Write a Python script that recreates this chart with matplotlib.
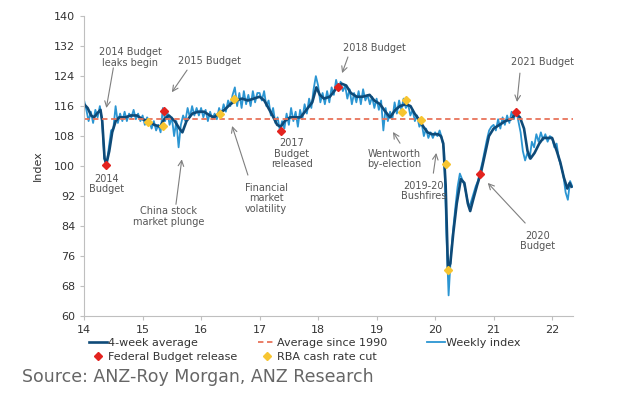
import numpy as np
import matplotlib
matplotlib.use('Agg')
import matplotlib.pyplot as plt

# ---------------
# Data
# ---------------

# Weekly index, one value every two weeks from start of 2014
weekly_2014 = [117.5, 115, 112, 114.5, 111.5, 115, 113, 116, 112, 102, 100.5, 105, 109.5,
               110, 116, 111.5, 114, 112, 114.5, 112, 114, 113, 115, 112.5, 114, 112]
weekly_2015 = [113.5, 111, 113, 112, 110, 112, 109.5, 111, 109, 115.5, 112, 114.5, 111,
               113, 108, 112, 105, 111, 113.5, 112, 115.5, 113, 116, 113.5, 115.5, 113.5]
weekly_2016 = [115.5, 113, 115, 112, 114.5, 112.5, 114, 112.5, 115.5, 113.5, 116.5, 114.5, 117.5,
               116, 119, 121, 116, 119.5, 115.5, 120, 116.5, 119, 116, 120, 117, 119.5]
weekly_2017 = [119.5, 117.5, 120, 116, 117.5, 113.5, 115.5, 111.5, 113, 109.5, 112, 110, 114,
               111, 115.5, 112, 114.5, 110.5, 115, 112.5, 116.5, 114, 118, 115.5, 120.5, 124]
weekly_2018 = [121.5, 117, 119.5, 116.5, 120, 117, 121, 119, 123, 120.5, 122.5, 120, 121.5,
               118, 120.5, 116.5, 119.5, 117, 120, 116.5, 120.5, 117.5, 119, 116.5, 118.5, 115.5]
weekly_2019 = [118, 115, 117.5, 109.5, 115.5, 112, 114.5, 112.5, 117, 114, 117.5, 115, 118,
               115.5, 116.5, 113.5, 115, 112, 113.5, 110.5, 111.5, 108, 110, 107.5, 109, 107.5]
weekly_2020 = [109, 108, 109.5, 107.5, 104, 82, 65.5, 76, 83, 89, 94.5, 98, 96.5,
               95, 92, 89, 90.5, 92.5, 94.5, 96, 98.5, 101, 104, 107, 109.5, 110.5]
weekly_2021 = [111, 109.5, 112.5, 110, 113, 111, 113.5, 111.5, 114.5, 112.5, 115, 112, 109,
               104, 101.5, 103.5, 102, 106.5, 105, 108.5, 106.5, 109, 107, 108.5, 106.5, 108]
weekly_2022 = [107.5, 105, 106, 102, 100, 97.5, 93, 91, 96, 94.5]

# 4-week average
avg_years = [14.00, 14.06, 14.12, 14.17, 14.22, 14.28, 14.31, 14.35, 14.38, 14.43, 14.48, 14.54,
             14.60, 14.70, 14.80, 14.90, 15.00, 15.10, 15.20, 15.30, 15.37, 15.45, 15.55, 15.63,
             15.68, 15.75, 15.85, 15.95, 16.05, 16.15, 16.22, 16.30, 16.40, 16.50, 16.60, 16.70,
             16.80, 16.90, 17.00, 17.08, 17.15, 17.22, 17.30, 17.36, 17.43, 17.52, 17.60, 17.70,
             17.80, 17.90, 17.97, 18.03, 18.10, 18.20, 18.30, 18.40, 18.48, 18.56, 18.66, 18.76,
             18.88, 18.96, 19.06, 19.15, 19.23, 19.32, 19.40, 19.50, 19.58, 19.65, 19.72, 19.80,
             19.87, 19.95, 20.05, 20.10, 20.14, 20.18, 20.22, 20.26, 20.31, 20.37, 20.44, 20.50,
             20.56, 20.60, 20.65, 20.72, 20.78, 20.85, 20.92, 21.00, 21.10, 21.20, 21.30, 21.38,
             21.45, 21.52, 21.58, 21.63, 21.70, 21.78, 21.85, 21.93, 22.00, 22.08, 22.14, 22.20,
             22.26, 22.30, 22.33]
avg_vals = [116.5, 115.5, 113.5, 113, 114, 115, 112, 102, 100.5, 104, 109, 112,
            113, 113, 113.5, 113.5, 112.5, 112, 111, 110.5, 112.5, 113.5, 112, 110,
            109, 112, 114, 114.5, 114.5, 113.5, 113, 114, 115, 116.5, 117.5, 118,
            117.5, 118, 118.5, 117.5, 115.5, 113.5, 111, 110.5, 112, 113, 113, 113,
            115, 117, 121, 119, 118, 118.5, 120.5, 122, 121.5, 119.5, 118.5, 118.5,
            119, 117.5, 116.5, 114.5, 113, 115, 116, 116.5, 116, 114, 112.5, 110.5,
            109, 108.5, 108.5, 108, 106, 95, 72.5, 74, 82, 90, 96.5, 95.5,
            90, 88, 91, 95, 98, 103, 108, 110, 111, 112, 112.5, 114,
            113, 110, 104, 102, 103.5, 106, 107.5, 107.5, 107.5, 104, 101, 97,
            94, 95.5, 94.5]

avg_since_1990 = 112.5

budget_years = [14.37, 15.37, 17.36, 18.34, 20.77, 21.38]
budget_vals = [100.3, 114.7, 109.3, 121.1, 97.8, 114.4]

rba_years = [15.09, 15.35, 16.32, 16.57, 19.44, 19.50, 19.76, 20.19, 20.22]
rba_vals = [111.7, 110.6, 114.0, 118.0, 114.4, 117.6, 112.3, 100.5, 72.3]

year_ticks = [14, 15, 16, 17, 18, 19, 20, 21, 22]
index_ticks = [60, 68, 76, 84, 92, 100, 108, 116, 124, 132, 140]

weekly_index = (weekly_2014 + weekly_2015 + weekly_2016 + weekly_2017 + weekly_2018
                + weekly_2019 + weekly_2020 + weekly_2021 + weekly_2022)
weekly_years = 14 + np.arange(len(weekly_index)) / 26

# ---------------
# Plot
# ---------------
plt.rcParams['font.family'] = 'DejaVu Sans'
txt_col = '#555555'

fig = plt.figure(figsize=(6.23, 3.94), dpi=100)
ax = fig.add_axes([0.135, 0.198, 0.785, 0.761])

l_week, = ax.plot(weekly_years, weekly_index, color='#2B95D2', lw=1.3, label='Weekly index')
l_avg, = ax.plot(avg_years, avg_vals, color='#0E4A78', lw=1.9, label='4-week average')
l_lt = ax.axhline(avg_since_1990, color='#E8735A', lw=1.3, ls=(0, (3, 2)),
                  label='Average since 1990')
m_bud, = ax.plot(budget_years, budget_vals, 'D', color='#E3231F', ms=4.5, ls='none',
                 label='Federal Budget release', zorder=5)
m_rba, = ax.plot(rba_years, rba_vals, 'D', color='#F7C531', ms=4.5, ls='none',
                 label='RBA cash rate cut', zorder=5)

ax.set_xlim(14, 22.36)
ax.set_ylim(60, 140)
ax.set_xticks(year_ticks)
ax.set_xticklabels([str(y) for y in year_ticks])
ax.set_yticks(index_ticks)
for s in ['top', 'right']:
    ax.spines[s].set_visible(False)
for s in ['left', 'bottom']:
    ax.spines[s].set_color('#BFBFBF')
ax.tick_params(colors='#BFBFBF', labelcolor='#333333', labelsize=8, length=3)
ax.set_ylabel('Index', fontsize=8, color='#333333', labelpad=8)

# annotations
arrow = dict(arrowstyle='->', color='#7F7F7F', lw=0.8, shrinkA=0, shrinkB=0)
kw = dict(fontsize=7.0, color=txt_col, ha='center', va='center', linespacing=1.05)

ax.text(14.79, 129, '2014 Budget\nleaks begin', **kw)
ax.annotate('', xy=(14.38, 115.5), xytext=(14.5, 126.2), arrowprops=arrow)
ax.text(14.38, 95.2, '2014\nBudget', **kw)
ax.text(16.15, 128, '2015 Budget', **kw)
ax.annotate('', xy=(15.5, 119.7), xytext=(15.76, 125.6), arrowprops=arrow)
ax.text(15.45, 86.5, 'China stock\nmarket plunge', **kw)
ax.annotate('', xy=(15.67, 101.8), xytext=(15.57, 89.8), arrowprops=arrow)
ax.text(17.11, 91.4, 'Financial\nmarket\nvolatility', **kw)
ax.annotate('', xy=(16.53, 110.7), xytext=(16.8, 97.6), arrowprops=arrow)
ax.text(17.55, 103.3, '2017\nBudget\nreleased', **kw)
ax.text(18.97, 131.5, '2018 Budget', **kw)
ax.annotate('', xy=(18.41, 124.8), xytext=(18.51, 129.1), arrowprops=arrow)
ax.text(21.83, 127.7, '2021 Budget', **kw)
ax.annotate('', xy=(21.4, 117.1), xytext=(21.45, 124.8), arrowprops=arrow)
ax.text(19.3, 101.9, 'Wentworth\nby-election', **kw)
ax.annotate('', xy=(19.28, 109.1), xytext=(19.4, 106.1), arrowprops=arrow)
ax.text(19.8, 93.3, '2019-20\nBushfires', **kw)
ax.annotate('', xy=(20.02, 103.5), xytext=(19.97, 98.1), arrowprops=arrow)
ax.text(21.76, 80, '2020\nBudget', **kw)
ax.annotate('', xy=(20.9, 95.5), xytext=(21.54, 84.8), arrowprops=arrow)

# legend: three columns placed separately
leg_kw = dict(loc='upper left', frameon=False, fontsize=8, handlelength=1.6,
              handletextpad=0.1, labelspacing=0.35, borderaxespad=0, borderpad=0)
for cols, x0 in [([l_avg, m_bud], 0.143), ([l_lt, m_rba], 0.414), ([l_week], 0.686)]:
    leg = fig.legend(cols, [h.get_label() for h in cols], bbox_to_anchor=(x0, 0.143), **leg_kw)
    for t in leg.get_texts():
        t.set_color('#333333')

fig.text(0.035, 0.03, 'Source: ANZ-Roy Morgan, ANZ Research', fontsize=12.5, color='#666666')

fig.savefig('out.png', dpi=100)
